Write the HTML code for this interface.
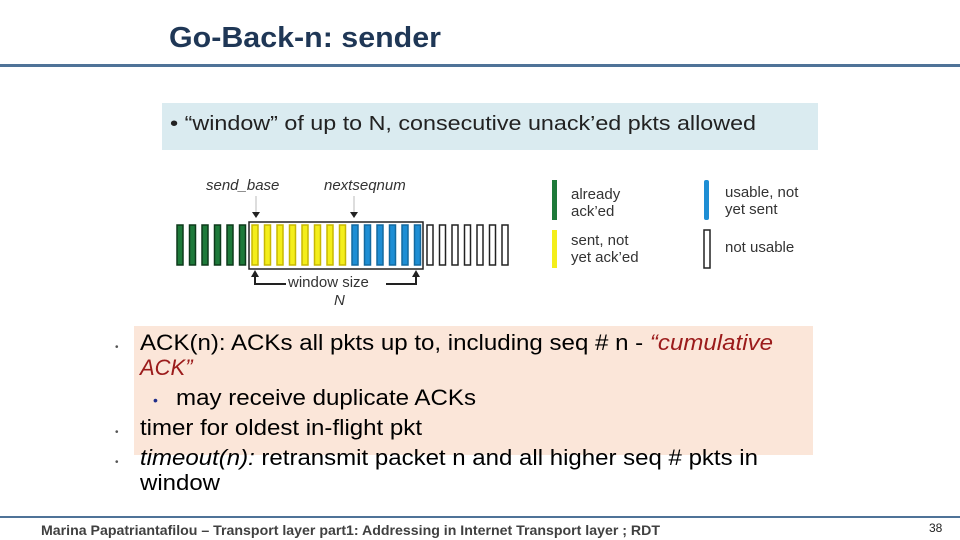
<!DOCTYPE html>
<html><head><meta charset="utf-8"><style>
html,body{margin:0;padding:0;background:#fff;}
svg{display:block;}
</style></head><body>
<svg width="960" height="540" viewBox="0 0 960 540" xmlns="http://www.w3.org/2000/svg" font-family="Liberation Sans, sans-serif">
<rect width="960" height="540" fill="#fff"/>
<text x="169" y="47" font-size="29" font-weight="bold" fill="#1f3756" textLength="272" lengthAdjust="spacingAndGlyphs">Go-Back-n: sender</text>
<rect x="0" y="64" width="960" height="3" fill="#4f7398"/>
<rect x="162" y="103" width="656" height="47" fill="#daebf0"/>
<text x="170" y="130" font-size="20" fill="#222" textLength="586" lengthAdjust="spacingAndGlyphs">•  “window” of up to N, consecutive unack’ed pkts allowed</text>

<g id="diag">
<text x="206" y="190" font-size="15" font-style="italic" fill="#333">send_base</text>
<text x="324" y="190" font-size="15" font-style="italic" fill="#333">nextseqnum</text>
<line x1="256" y1="196" x2="256" y2="212" stroke="#bbb" stroke-width="1"/>
<polygon points="252,212 260,212 256,218" fill="#222"/>
<line x1="354" y1="196" x2="354" y2="212" stroke="#bbb" stroke-width="1"/>
<polygon points="350,212 358,212 354,218" fill="#222"/>
<rect x="249" y="222" width="174" height="47" fill="none" stroke="#222" stroke-width="1.5"/>
<g stroke-width="1.5">
<rect x="177" y="225" width="6" height="40" fill="#1e7a3a" stroke="#0d3a1b"/>
<rect x="189.5" y="225" width="6" height="40" fill="#1e7a3a" stroke="#0d3a1b"/>
<rect x="202" y="225" width="6" height="40" fill="#1e7a3a" stroke="#0d3a1b"/>
<rect x="214.5" y="225" width="6" height="40" fill="#1e7a3a" stroke="#0d3a1b"/>
<rect x="227" y="225" width="6" height="40" fill="#1e7a3a" stroke="#0d3a1b"/>
<rect x="239.5" y="225" width="6" height="40" fill="#1e7a3a" stroke="#0d3a1b"/>
<rect x="252" y="225" width="6" height="40" fill="#f4ee1a" stroke="#c8b800"/>
<rect x="264.5" y="225" width="6" height="40" fill="#f4ee1a" stroke="#c8b800"/>
<rect x="277" y="225" width="6" height="40" fill="#f4ee1a" stroke="#c8b800"/>
<rect x="289.5" y="225" width="6" height="40" fill="#f4ee1a" stroke="#c8b800"/>
<rect x="302" y="225" width="6" height="40" fill="#f4ee1a" stroke="#c8b800"/>
<rect x="314.5" y="225" width="6" height="40" fill="#f4ee1a" stroke="#c8b800"/>
<rect x="327" y="225" width="6" height="40" fill="#f4ee1a" stroke="#c8b800"/>
<rect x="339.5" y="225" width="6" height="40" fill="#f4ee1a" stroke="#c8b800"/>
<rect x="352" y="225" width="6" height="40" fill="#1e8ed4" stroke="#136aa0"/>
<rect x="364.5" y="225" width="6" height="40" fill="#1e8ed4" stroke="#136aa0"/>
<rect x="377" y="225" width="6" height="40" fill="#1e8ed4" stroke="#136aa0"/>
<rect x="389.5" y="225" width="6" height="40" fill="#1e8ed4" stroke="#136aa0"/>
<rect x="402" y="225" width="6" height="40" fill="#1e8ed4" stroke="#136aa0"/>
<rect x="414.5" y="225" width="6" height="40" fill="#1e8ed4" stroke="#136aa0"/>
<rect x="427" y="225" width="6" height="40" fill="#fff" stroke="#222"/>
<rect x="439.5" y="225" width="6" height="40" fill="#fff" stroke="#222"/>
<rect x="452" y="225" width="6" height="40" fill="#fff" stroke="#222"/>
<rect x="464.5" y="225" width="6" height="40" fill="#fff" stroke="#222"/>
<rect x="477" y="225" width="6" height="40" fill="#fff" stroke="#222"/>
<rect x="489.5" y="225" width="6" height="40" fill="#fff" stroke="#222"/>
<rect x="502" y="225" width="6" height="40" fill="#fff" stroke="#222"/>
</g>
<polyline points="255,276 255,284 286,284" fill="none" stroke="#222" stroke-width="2"/>
<polygon points="251,277 259,277 255,270" fill="#222"/>
<polyline points="416,276 416,284 386,284" fill="none" stroke="#222" stroke-width="2"/>
<polygon points="412,277 420,277 416,270" fill="#222"/>
<text x="288" y="287" font-size="15" fill="#333">window size</text>
<text x="334" y="305" font-size="15" font-style="italic" fill="#333">N</text>

<rect x="552" y="180" width="5" height="40" fill="#1e7a3a"/>
<text x="571" y="199" font-size="15" fill="#333">already</text>
<text x="571" y="216" font-size="15" fill="#333">ack’ed</text>
<rect x="552" y="230" width="5" height="38" fill="#f4ee1a"/>
<text x="571" y="245" font-size="15" fill="#333">sent, not</text>
<text x="571" y="262" font-size="15" fill="#333">yet ack’ed</text>
<rect x="704" y="180" width="5" height="40" rx="2" fill="#1e8ed4"/>
<text x="725" y="197" font-size="15" fill="#333">usable, not</text>
<text x="725" y="214" font-size="15" fill="#333">yet sent</text>
<rect x="704" y="230" width="6" height="38" fill="#fff" stroke="#222" stroke-width="1.5"/>
<text x="725" y="252" font-size="15" fill="#333">not usable</text>
</g>

<rect x="134" y="326" width="679" height="129" fill="#fbe6d9"/>
<g font-size="22" fill="#000">
<text x="115" y="350" font-size="10" fill="#555">•</text>
<text x="140" y="350" textLength="633" lengthAdjust="spacingAndGlyphs">ACK(n): ACKs all pkts up to, including seq # n - <tspan fill="#9b1b1b" font-style="italic">“cumulative</tspan></text>
<text x="140" y="375" fill="#9b1b1b" font-style="italic">ACK”</text>
<text x="153" y="405" font-size="14" fill="#1f2e8a">•</text>
<text x="176" y="405" textLength="300" lengthAdjust="spacingAndGlyphs">may receive duplicate ACKs</text>
<text x="115" y="435" font-size="10" fill="#555">•</text>
<text x="140" y="435" textLength="282" lengthAdjust="spacingAndGlyphs">timer for oldest in-flight pkt</text>
<text x="115" y="465" font-size="10" fill="#555">•</text>
<text x="140" y="465" textLength="618" lengthAdjust="spacingAndGlyphs"><tspan font-style="italic">timeout(n):</tspan> retransmit packet n and all higher seq # pkts in</text>
<text x="140" y="490" textLength="80" lengthAdjust="spacingAndGlyphs">window</text>
</g>

<rect x="0" y="516" width="960" height="2" fill="#4f7398"/>
<text x="41" y="535" font-size="14" font-weight="bold" fill="#404040" textLength="619" lengthAdjust="spacingAndGlyphs">Marina Papatriantafilou –  Transport layer part1: Addressing in Internet Transport layer ; RDT</text>
<text x="929" y="532" font-size="12" fill="#222">38</text>
</svg>
</body></html>
